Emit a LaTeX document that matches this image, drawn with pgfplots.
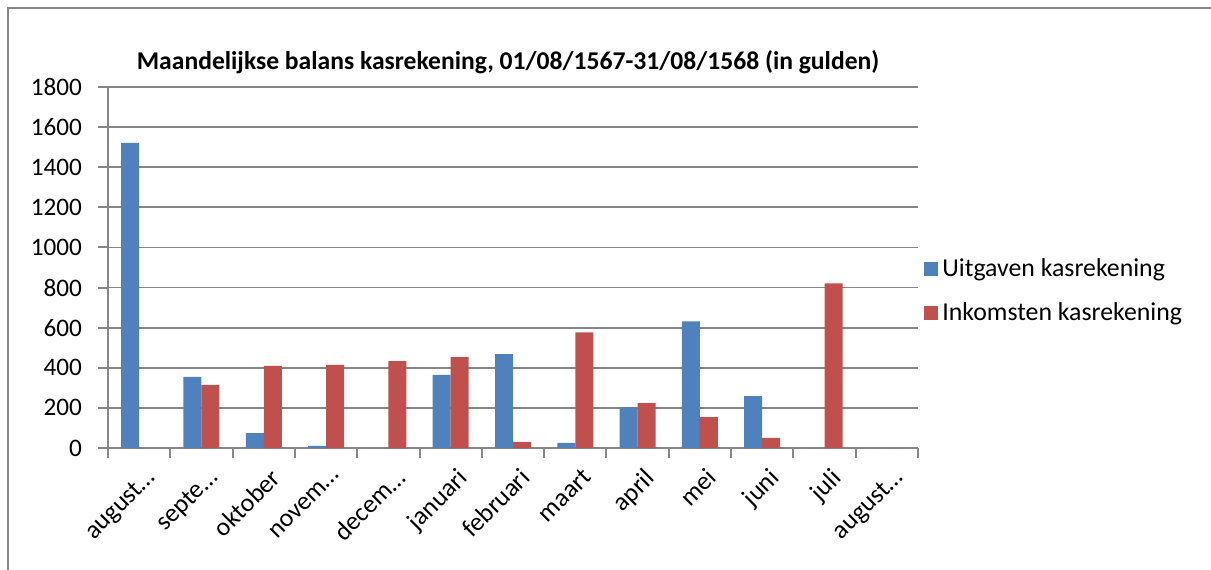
\documentclass[border=0pt]{standalone}
\usepackage{pgfplots}
\pgfplotsset{compat=1.18}
\usepackage{fontspec}
\setmainfont{Carlito}
\definecolor{cblue}{HTML}{4F81BD}
\definecolor{cred}{HTML}{C0504D}
\definecolor{cgray}{HTML}{868686}
\begin{document}
\begin{tikzpicture}[x=1pt,y=1pt]
\useasboundingbox (0,0) rectangle (605.5,284.5);
\draw[cgray, line width=1pt] (4,-5) -- (4,280.5) -- (610,280.5);
\node[font=\bfseries\fontsize{12.8}{14}\selectfont] at (254,253.5) {Maandelijkse balans kasrekening, 01/08/1567-31/08/1568 (in gulden)};
\begin{axis}[
  at={(54pt,60.5pt)}, anchor=south west,
  scale only axis, width=405pt, height=180.5pt,
  xmin=-0.5, xmax=12.5, ymin=0, ymax=1800,
  ytick={0,200,...,1800},
  xtick={0,...,12},
  xticklabels={august…,septe…,oktober,novem…,decem…,januari,februari,maart,april,mei,juni,juli,august…},
  minor xtick={-0.5,0.5,...,12.5},
  axis x line*=bottom, axis y line*=left,
  axis line style={cgray, line width=1pt},
  tick align=outside,
  major tick length=5pt, minor tick length=5pt,
  major x tick style={draw=none},
  minor x tick style={cgray, line width=1pt},
  major y tick style={cgray, line width=1pt},
  ymajorgrids, grid style={cgray, line width=0.9pt},
  /pgf/number format/assume math mode=true,
  /pgf/number format/1000 sep={},
  tick label style={font=\fontsize{12.6}{14}\selectfont, text=black},
  y tick label style={xshift=-4.5pt},
  x tick label style={rotate=45, anchor=north east, inner sep=1pt, yshift=-4pt, xshift=0pt, font=\fontsize{12.9}{14}\selectfont},
  ybar=0pt, bar width=9pt,
  legend style={at={(1,0.435)}, anchor=west, draw=none, fill=none,
    font=\fontsize{12.9}{14}\selectfont, row sep=7.5pt},
  legend cell align=left,
  legend image code/.code={\fill[#1] (0pt,-3.5pt) rectangle (7pt,3.5pt);},
]
\addplot[fill=cblue, draw=none] coordinates {(0,1522) (1,355) (2,74) (3,10) (4,0) (5,365) (6,468) (7,25) (8,202) (9,632) (10,259) (11,0) (12,0)};
\addplot[fill=cred, draw=none] coordinates {(0,0) (1,315) (2,409) (3,414) (4,433) (5,453) (6,30) (7,577) (8,224) (9,154) (10,50) (11,821) (12,0)};
\legend{Uitgaven kasrekening, Inkomsten kasrekening}
\end{axis}
\end{tikzpicture}
\end{document}
